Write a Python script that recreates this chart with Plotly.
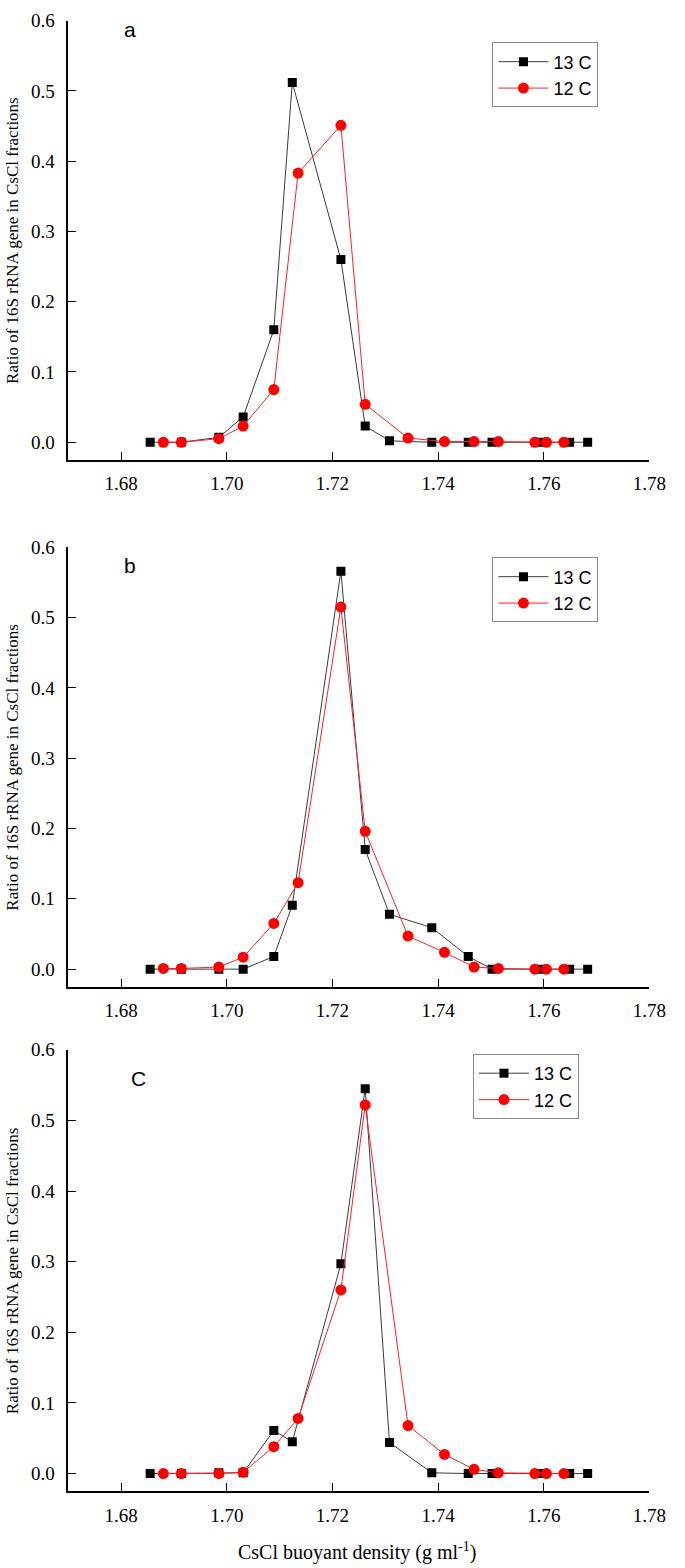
import plotly.graph_objects as go

# ---- data ----
x13 = [1.6855, 1.6914, 1.6985, 1.7031, 1.7089, 1.7124, 1.7216, 1.7262,
       1.7308, 1.7388, 1.7457, 1.7502, 1.7594, 1.7649, 1.7683]
x12 = [1.6880, 1.6914, 1.6985, 1.7031, 1.7089, 1.7135, 1.7216, 1.7262,
       1.7343, 1.7412, 1.7468, 1.7514, 1.7583, 1.7605, 1.7638]

a_13C = [0, 0, 0.007, 0.036, 0.160, 0.512, 0.260, 0.023, 0.002, 0, 0, 0, 0, 0, 0]
a_12C = [0, 0, 0.005, 0.023, 0.075, 0.383, 0.451, 0.054, 0.006, 0.001, 0.001, 0.001, 0, 0, 0]

b_13C = [0, 0, 0, 0, 0.018, 0.091, 0.566, 0.170, 0.078, 0.059, 0.018, 0, 0, 0, 0]
b_12C = [0.001, 0.001, 0.003, 0.017, 0.065, 0.123, 0.515, 0.196, 0.047, 0.024, 0.003, 0.001, 0, 0, 0]

c_13C = [0, 0, 0.001, 0.001, 0.061, 0.045, 0.297, 0.545, 0.044, 0.001, 0, 0, 0, 0, 0]
c_12C = [0, 0, 0, 0.002, 0.038, 0.078, 0.260, 0.522, 0.068, 0.027, 0.006, 0.001, 0, 0, 0]

panel_labels = ["a", "b", "C"]
series_names = ["13 C", "12 C"]
x_ticks = [1.68, 1.70, 1.72, 1.74, 1.76, 1.78]
y_ticks = [0.0, 0.1, 0.2, 0.3, 0.4, 0.5, 0.6]

W, H = 685, 1568
SERIF = "Liberation Serif, Times New Roman, serif"
SANS = "Liberation Sans, Arial, sans-serif"


def fx(px):
    return px / W


def fy(py):
    return 1 - py / H


# panel pixel geometry (top of plot area, bottom of plot area)
panels_px = [(10.7, 452.7), (540.7, 983.0), (1046.5, 1490.7)]
x_px = (70.0, 666.0)
legend_px = [(505, 32.7), (505, 551.0), (485, 1050.7)]
label_px = [(133, 20), (133, 559), (142, 1075)]

fig = go.Figure()
data = [(a_13C, a_12C), (b_13C, b_12C), (c_13C, c_12C)]
legend_ids = ["legend", "legend2", "legend3"]

for i, (y13, y12) in enumerate(data):
    sfx = "" if i == 0 else str(i + 1)
    fig.add_trace(go.Scatter(
        x=x13, y=y13, name=series_names[0], mode="lines+markers",
        xaxis="x" + sfx, yaxis="y" + sfx, legend=legend_ids[i],
        line=dict(color="#3a3a3a", width=1),
        marker=dict(symbol="square", size=9, color="black", line=dict(width=0)),
    ))
    fig.add_trace(go.Scatter(
        x=x12, y=y12, name=series_names[1], mode="lines+markers",
        xaxis="x" + sfx, yaxis="y" + sfx, legend=legend_ids[i],
        line=dict(color="#ff2020", width=1),
        marker=dict(symbol="circle", size=11, color="#ff0000", line=dict(width=0)),
    ))

layout = dict(
    width=W, height=H, margin=dict(l=0, r=0, t=0, b=0),
    paper_bgcolor="white", plot_bgcolor="white", showlegend=True,
)

annotations = []
for i, (top, bot) in enumerate(panels_px):
    sfx = "" if i == 0 else str(i + 1)
    layout["xaxis" + sfx] = dict(
        domain=[fx(x_px[0]), fx(x_px[1])], range=[1.67, 1.78],
        anchor="y" + sfx, tickvals=x_ticks, ticktext=[f"{v:.2f}" for v in x_ticks],
        ticks="inside", ticklen=8, tickwidth=1.3, tickcolor="black",
        showline=True, linecolor="black", linewidth=1.5, mirror=False,
        showgrid=False, zeroline=False, ticklabelstandoff=6,
        tickfont=dict(family=SERIF, size=19, color="black"),
    )
    layout["yaxis" + sfx] = dict(
        domain=[fy(bot), fy(top)], range=[-0.025, 0.6],
        anchor="x" + sfx, tickvals=y_ticks, ticktext=[f"{v:.1f}" for v in y_ticks],
        ticks="inside", ticklen=8, tickwidth=1.3, tickcolor="black",
        showline=True, linecolor="black", linewidth=1.5, mirror=False,
        showgrid=False, zeroline=False, ticklabelstandoff=8,
        tickfont=dict(family=SERIF, size=19, color="black"),
    )
    lx, ly = legend_px[i]
    layout[legend_ids[i]] = dict(
        x=fx(lx), y=fy(ly), xanchor="left", yanchor="top",
        bordercolor="#888888", borderwidth=1, bgcolor="white",
        font=dict(family=SANS, size=18, color="black"),
        itemwidth=50, tracegroupgap=0,
    )
    px_, py_ = label_px[i]
    annotations.append(dict(
        text=panel_labels[i], x=fx(px_), y=fy(py_), xref="paper", yref="paper",
        showarrow=False, xanchor="center", yanchor="middle",
        font=dict(family=SANS, size=21, color="black"),
    ))
    annotations.append(dict(
        text="Ratio of 16S rRNA gene in CsCl fractions",
        x=fx(13), y=fy((top + bot) / 2), xref="paper", yref="paper",
        showarrow=False, textangle=-90, xanchor="center", yanchor="middle",
        font=dict(family=SERIF, size=17, color="black"),
    ))

annotations.append(dict(
    text="CsCl buoyant density (g ml<sup>-1</sup>)",
    x=fx(366), y=fy(1551), xref="paper", yref="paper",
    showarrow=False, xanchor="center", yanchor="middle",
    font=dict(family=SERIF, size=20, color="black"),
))

layout["annotations"] = annotations
fig.update_layout(**layout)
fig.write_html("out.html",
               config={"displayModeBar": False},
               post_script="document.body.style.margin='0';"
                           "document.body.style.overflow='hidden';")
